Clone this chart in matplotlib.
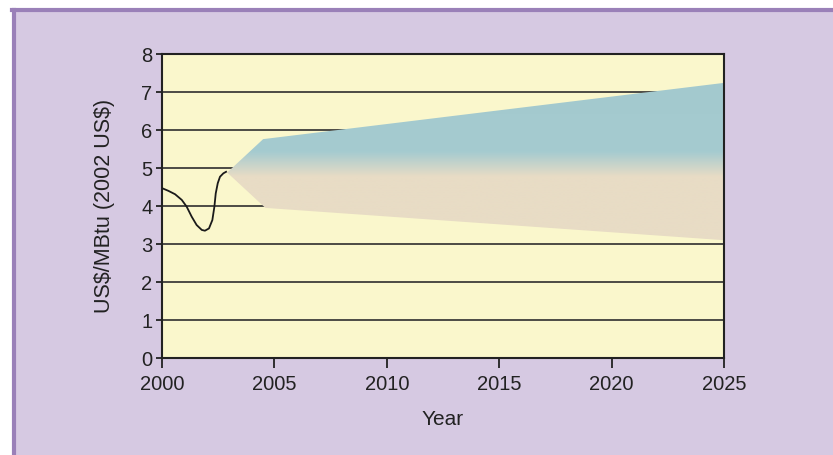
import numpy as np
import matplotlib.pyplot as plt
from matplotlib.patches import Polygon, Rectangle
from matplotlib.colors import LinearSegmentedColormap

plt.rcParams['font.family'] = ['Liberation Sans', 'DejaVu Sans']

# historical price curve
hist_years = [2000.0, 2000.28, 2000.58, 2000.88, 2001.1, 2001.32, 2001.54, 2001.77, 2001.91,
              2002.09, 2002.24, 2002.33, 2002.39, 2002.48, 2002.58, 2002.73, 2002.85]
hist_price = [4.47, 4.40, 4.31, 4.16, 3.98, 3.72, 3.50, 3.37, 3.35,
              3.41, 3.63, 3.98, 4.33, 4.60, 4.77, 4.86, 4.90]

# projection fan (upper and lower envelopes)
fan_upper_years = [2002.9, 2004.5, 2025.0]
fan_upper = [4.88, 5.76, 7.24]
fan_lower_years = [2025.0, 2004.6, 2002.9]
fan_lower = [3.10, 3.95, 4.88]

gridlevels = [1, 2, 3, 4, 5, 6, 7]
xticks = [2000, 2005, 2010, 2015, 2020, 2025]
yticks = [0, 1, 2, 3, 4, 5, 6, 7, 8]

bg = '#d6c9e2'
fig = plt.figure(figsize=(8.33, 4.55), dpi=100)
fig.patch.set_facecolor('white')
fig.patches.append(Rectangle((12/833, 0), 1, 1 - 8/455, transform=fig.transFigure,
                             facecolor=bg, edgecolor='none', zorder=-10))
fig.add_artist(plt.Line2D([13.5/833, 13.5/833], [0, 1 - 9.5/455], color='#9a80b8', lw=3))
fig.add_artist(plt.Line2D([12/833, 1], [1 - 9.5/455, 1 - 9.5/455], color='#9a80b8', lw=3))

ax = fig.add_axes([162/833, 97/455, 562/833, 304/455])
ax.set_facecolor('#faf7cc')

for g in gridlevels:
    ax.axhline(g, color='#2e2e2e', lw=1.2, zorder=1)

# fan with vertical gradient beige -> blue
verts = list(zip(fan_upper_years, fan_upper)) + list(zip(fan_lower_years, fan_lower))
poly = Polygon(verts, closed=True, facecolor='none', edgecolor='none')
ax.add_patch(poly)
cmap = LinearSegmentedColormap.from_list('fan', [(0, '#e8dcc5'), (0.40, '#e8dcc5'),
                                                 (0.55, '#a5cbd0'), (1, '#a3c9ce')])
yy = np.linspace(0, 1, 400).reshape(-1, 1)
im = ax.imshow(yy, extent=[2002.5, 2025, 3.0, 7.4], origin='lower', aspect='auto',
               cmap=cmap, zorder=2, interpolation='bilinear')
im.set_clip_path(poly)

ax.plot(hist_years, hist_price, color='#1a1a1a', lw=1.3, zorder=3)

ax.set_xlim(2000, 2025)
ax.set_ylim(0, 8)
ax.set_xticks(xticks)
ax.set_yticks(yticks)
ax.tick_params(axis='x', direction='out', length=7, width=1.3, labelsize=14.5, pad=5, colors='#222222')
ax.tick_params(axis='y', direction='out', length=4, width=1.3, labelsize=14.5, pad=3, colors='#222222')
for s in ax.spines.values():
    s.set_color('#222222')
    s.set_linewidth(1.5)

ax.set_xlabel('Year', fontsize=15, color='#222222', labelpad=12)
ax.set_ylabel('US\\$/MBtu (2002 US\\$)', fontsize=15.5, color='#222222', labelpad=19)

fig.savefig('out.png', dpi=100, facecolor=fig.get_facecolor())
